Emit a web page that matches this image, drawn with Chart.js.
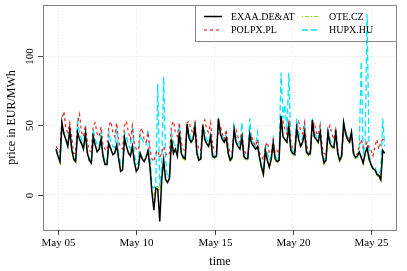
<!DOCTYPE html>
<html>
<head>
<meta charset="utf-8">
<script src="https://cdn.jsdelivr.net/npm/chart.js@4"></script>
<style>
  html, body { margin: 0; padding: 0; background: #fff; }
  #wrap { width: 407px; height: 271px; }
</style>
</head>
<body>
<div id="wrap"><canvas id="myChart" width="407" height="271"></canvas></div>
<script>
// first sample: May 4 21:00, then every 3 hours (0,3,6,9,12,15,18,21 h)
let startDay = 4.875;
let stepDays = 0.125;
let xTicks = [5, 10, 15, 20, 25];
let yTicks = [0, 50, 100];
let seriesNames = ["EXAA.DE&AT", "POLPX.PL", "OTE.CZ", "HUPX.HU"];

let exaa = [33,
  28,24,52,44,40,35,47,33,   // May 05
  26,24,45,40,37,33,44,30,
  25,23,42,36,31,33,40,28,
  22,22,37,33,29,30,36,26,
  17,18,41,35,30,28,35,24,
  17,19,30,26,24,27,32,20,   // May 10
  2,-11,5,4,-19,11,25,11,
  9,12,40,30,33,28,45,30,
  27,26,51,41,38,40,49,30,
  25,26,50,40,37,35,42,28,
  27,28,55,44,40,38,41,30,   // May 15
  25,27,47,38,35,33,41,28,
  26,26,44,37,35,33,35,27,
  20,15,32,25,20,26,37,26,
  24,25,57,42,40,38,49,32,
  30,29,48,40,35,38,45,31,   // May 20
  29,30,54,42,40,38,45,30,
  23,25,45,37,35,34,45,30,
  25,28,52,44,40,38,45,30,
  27,28,31,27,23,30,34,26,
  22,19,18,15,14,11,32,30];  // May 25

let polpx = [35,
  33,31,55,60,48,45,52,42,
  30,30,52,58,45,42,50,38,
  32,31,50,52,44,42,49,36,
  33,32,50,53,45,42,52,38,
  35,33,50,53,45,40,50,37,
  33,32,46,48,40,38,45,33,
  26,24,30,32,27,30,35,30,
  28,30,50,53,45,42,52,38,
  33,32,52,53,47,45,52,38,
  33,32,50,54,47,45,52,36,
  32,31,48,50,44,40,47,35,
  31,30,45,47,42,38,45,33,
  30,29,40,42,38,35,40,30,
  28,25,35,38,30,30,40,30,
  32,30,50,53,47,44,52,38,
  33,32,50,53,46,44,52,36,
  32,30,48,52,45,43,50,35,
  30,29,46,50,44,40,48,33,
  31,30,45,46,42,38,44,32,
  30,29,36,40,34,35,38,33,
  32,28,35,40,33,38,40,38];

let ote = [33,
  27,23,50,44,40,35,47,32,
  25,23,45,40,37,33,43,30,
  24,22,42,36,32,33,40,27,
  22,21,37,34,29,30,36,26,
  18,18,41,35,31,28,35,24,
  18,19,31,27,25,27,33,20,
  2,0,6,6,3,12,26,12,
  10,12,41,31,33,28,45,29,
  26,25,50,41,38,40,49,29,
  25,25,49,40,37,35,42,27,
  26,27,54,44,40,38,41,29,
  24,26,47,38,35,33,41,27,
  25,25,44,37,35,33,35,26,
  18,14,32,25,20,25,36,25,
  23,24,55,42,40,37,48,31,
  29,28,47,40,35,37,45,30,
  28,29,53,42,40,37,45,29,
  22,24,44,36,34,33,44,29,
  24,27,51,43,40,37,45,29,
  26,27,30,27,22,29,33,25,
  21,18,17,14,13,10,31,30];

let hupx = [32,
  27,25,48,45,40,36,45,33,
  27,26,53,45,40,35,50,32,
  26,25,47,40,36,35,45,30,
  23,23,45,38,35,34,48,30,
  22,22,45,42,36,33,49,30,
  22,23,44,40,37,36,47,30,
  6,5,8,80,6,20,85,25,
  12,15,45,38,35,33,50,33,
  28,27,50,45,40,40,50,32,
  27,27,50,45,40,38,45,30,
  28,29,53,45,42,40,45,32,
  26,28,50,42,38,36,52,30,
  27,27,55,40,37,35,45,29,
  21,17,35,30,25,28,40,28,
  26,30,88,55,65,45,88,35,
  32,30,55,45,40,40,52,33,
  30,31,55,45,42,40,50,32,
  25,27,48,40,37,36,47,31,
  27,29,53,45,42,40,46,31,
  28,27,35,96,30,35,130,30,
  22,19,20,16,15,18,55,35];

let fontSerif = "'Liberation Serif', 'DejaVu Serif', serif";

function toPoints(arr) {
  return arr.map((v, i) => ({ x: startDay + i * stepDays, y: v }));
}

// axes, box, labels and legend drawn in R style
let rStyle = {
  id: "rStyle",
  afterDraw(chart) {
    let ctx = chart.ctx;
    let a = chart.chartArea;
    let xs = chart.scales.x;
    let ys = chart.scales.y;
    ctx.save();
    ctx.strokeStyle = "#808080";
    ctx.lineWidth = 1;
    ctx.strokeRect(a.left + 0.5, a.top + 0.5, a.right - a.left - 1, a.bottom - a.top);

    ctx.fillStyle = "#000";
    ctx.strokeStyle = "#444";
    ctx.font = "11px " + fontSerif;
    ctx.textAlign = "center";
    ctx.textBaseline = "middle";
    xTicks.forEach(v => {
      let px = Math.round(xs.getPixelForValue(v)) + 0.5;
      ctx.beginPath();
      ctx.moveTo(px, a.bottom);
      ctx.lineTo(px, a.bottom + 5);
      ctx.stroke();
      ctx.fillText("May " + String(v).padStart(2, "0"), px, a.bottom + 13);
    });
    yTicks.forEach(v => {
      let py = Math.round(ys.getPixelForValue(v)) + 0.5;
      ctx.beginPath();
      ctx.moveTo(a.left - 5, py);
      ctx.lineTo(a.left, py);
      ctx.stroke();
      ctx.save();
      ctx.translate(a.left - 13, py);
      ctx.rotate(-Math.PI / 2);
      ctx.fillText(String(v), 0, 0);
      ctx.restore();
    });

    ctx.font = "12px " + fontSerif;
    ctx.fillText("time", (a.left + a.right) / 2, 262);
    ctx.save();
    ctx.translate(12, (a.top + a.bottom) / 2);
    ctx.rotate(-Math.PI / 2);
    ctx.fillText("price in EUR/MWh", 0, 0);
    ctx.restore();

    // legend (transparent, like R default)
    let lx = 195, ly = a.top, lw = a.right - 195, lh = 36;
    ctx.strokeStyle = "#888";
    ctx.strokeRect(lx + 0.5, ly + 0.5, lw - 1, lh);
    ctx.font = "10px " + fontSerif;
    ctx.textAlign = "left";
    let sets = chart.data.datasets;
    let spots = [[204, 16.5], [204, 30], [302, 16.5], [302, 30]];
    [0, 1, 2, 3].forEach(k => {
      let ds = sets[k];
      let sx = spots[k][0], sy = spots[k][1];
      ctx.strokeStyle = ds.borderColor;
      ctx.lineWidth = ds.borderWidth;
      ctx.setLineDash(ds.borderDash || []);
      ctx.beginPath();
      ctx.moveTo(sx, sy);
      ctx.lineTo(sx + 18, sy);
      ctx.stroke();
      ctx.setLineDash([]);
      ctx.fillStyle = "#000";
      ctx.fillText(seriesNames[k], sx + 27, sy + 0.5);
    });
    ctx.restore();
  }
};

let ctxChart = document.getElementById("myChart");
let myChart = new Chart(ctxChart, {
  type: "line",
  data: {
    datasets: [
      { label: seriesNames[0], data: toPoints(exaa), borderColor: "#000000", borderWidth: 1.5, borderDash: [] },
      { label: seriesNames[1], data: toPoints(polpx), borderColor: "#ff2020", borderWidth: 1.2, borderDash: [3, 3] },
      { label: seriesNames[2], data: toPoints(ote), borderColor: "#7fe000", borderWidth: 1.1, borderDash: [1, 2, 4, 2] },
      { label: seriesNames[3], data: toPoints(hupx), borderColor: "#00e8ff", borderWidth: 1.3, borderDash: [6, 3] }
    ]
  },
  options: {
    responsive: false,
    animation: false,
    events: [],
    layout: { padding: { top: 5, right: 10, left: 0, bottom: 0 } },
    elements: { point: { radius: 0 }, line: { tension: 0, fill: false } },
    plugins: { legend: { display: false }, tooltip: { enabled: false } },
    scales: {
      x: {
        type: "linear",
        min: 4.04,
        max: 26.66,
        afterBuildTicks: s => { s.ticks = xTicks.map(v => ({ value: v })); },
        afterFit: s => { s.height = 41; },
        ticks: { display: false },
        grid: { color: "#e6e6e6", drawTicks: false },
        border: { display: false, dash: [1, 2] }
      },
      y: {
        type: "linear",
        min: -25.2,
        max: 136.7,
        afterBuildTicks: s => { s.ticks = yTicks.map(v => ({ value: v })); },
        afterFit: s => { s.width = 43; },
        ticks: { display: false },
        grid: { color: "#e6e6e6", drawTicks: false },
        border: { display: false, dash: [1, 2] }
      }
    }
  },
  plugins: [rStyle]
});
</script>
</body>
</html>
